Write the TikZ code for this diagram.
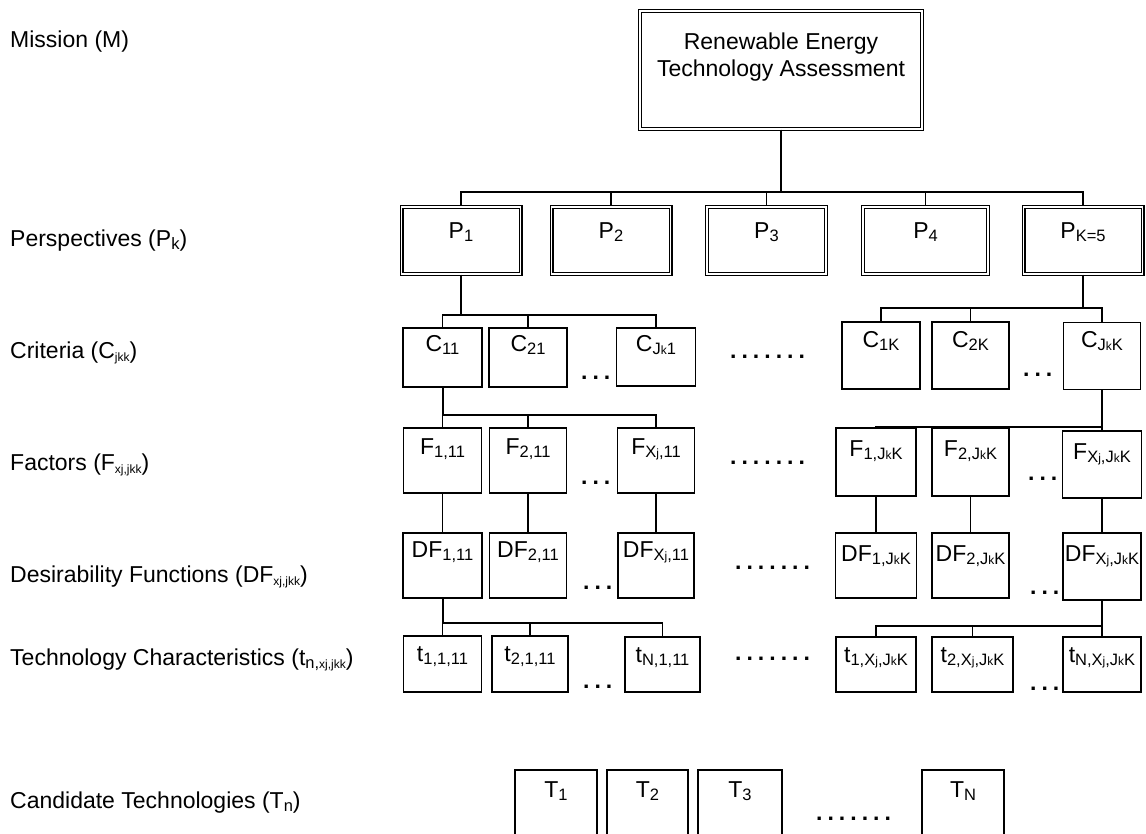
\documentclass[tikz,border=0pt]{standalone}
\usepackage{fontspec}
\setmainfont{Liberation Sans}
\newcommand\fsz{\fontsize{23}{27}\selectfont}
\newcommand\sub[1]{\raisebox{-3pt}{\fontsize{16.5}{16.5}\selectfont #1}}
\newcommand\tn[1]{{\fontsize{12}{12}\selectfont #1}}
\newcommand\dt{.\kern5pt}
\begin{document}
\begin{tikzpicture}[x=1pt,y=-1pt,
  every node/.style={font=\fsz},
  box/.style={draw, line width=1.5pt, inner sep=0pt},
  dbox/.style={draw, line width=1.2pt, double, double distance=1.6pt, inner sep=0pt},
  lbl/.style={anchor=base, inner sep=0pt},
  conn/.style={line width=1.6pt},
  trunk/.style={line width=2pt},
  side/.style={anchor=base west, inner sep=0pt},
  dots/.style={anchor=base west, inner sep=0pt, font=\fsz\bfseries}]
\useasboundingbox (0,0) rectangle (1146,834);
\clip (0,0) rectangle (1146,834);

% left labels
\node[side] (lm) at (10,48) {Mission (M)};
\node[side] (lp) at (10,247) {Perspectives (P\sub{k})};
\node[side] (lc) at (10,358) {Criteria (C\sub{\tn{jkk}})};
\node[side] (lf) at (10,470) {Factors (F\sub{\tn{xj,jkk}})};
\node[side] (ld) at (10,582) {Desirability Functions (DF\sub{\tn{xj,jkk}})};
\node[side] (lt) at (10,665) {Technology Characteristics (t\sub{n,\tn{xj,jkk}})};
\node[side] (lT) at (10,808) {Candidate Technologies (T\sub{n})};

% mission
\node[dbox, minimum width=282, minimum height=118,
  label={[anchor=north, align=center, inner sep=0pt, yshift=-22pt]north:Renewable Energy\\Technology Assessment}] (top) at (781,70) {};

% perspectives
\node[dbox, minimum width=119, minimum height=67, label={[lbl,yshift=-32pt]north:P\sub{1}}] (p1) at (461,240.5) {};
\node[dbox, minimum width=119, minimum height=67, label={[lbl,yshift=-32pt]north:P\sub{2}}] (p2) at (611,240.5) {};
\node[dbox, minimum width=119, minimum height=67, label={[lbl,yshift=-32pt]north:P\sub{3}}] (p3) at (766.5,240.5) {};
\node[dbox, minimum width=125, minimum height=67, label={[lbl,yshift=-32pt]north:P\sub{4}}] (p4) at (925.5,240.5) {};
\node[dbox, minimum width=119, minimum height=67, label={[lbl,yshift=-32pt]north:P\sub{K=5}}] (p5) at (1083,240.5) {};

% criteria
\node[box, minimum width=79, minimum height=59, label={[lbl,yshift=-24pt]north:C\sub{11}}] (c1) at (442.5,357.5) {};
\node[box, minimum width=78, minimum height=59, label={[lbl,yshift=-24pt]north:C\sub{21}}] (c2) at (528,357.5) {};
\node[box, minimum width=79, minimum height=58, label={[lbl,yshift=-24pt]north:C\sub{J\tn{k}1}}] (c3) at (656,357) {};
\node[box, minimum width=78, minimum height=67, label={[lbl,yshift=-26pt]north:C\sub{1K}}] (c4) at (881,355.5) {};
\node[box, minimum width=77, minimum height=67, label={[lbl,yshift=-26pt]north:C\sub{2K}}] (c5) at (970.5,355.5) {};
\node[box, minimum width=77, minimum height=67, label={[lbl,yshift=-26pt]north:C\sub{J\tn{k}K}}] (c6) at (1102,356) {};

% factors
\node[box, minimum width=78, minimum height=65, label={[lbl,yshift=-27pt]north:F\sub{1,11}}] (f1) at (442.5,460.5) {};
\node[box, minimum width=77, minimum height=65, label={[lbl,yshift=-27pt]north:F\sub{2,11}}] (f2) at (528,460.5) {};
\node[box, minimum width=77, minimum height=65, label={[lbl,yshift=-27pt]north:F\sub{X\tn{j},11}}] (f3) at (656,460.5) {};
\node[box, minimum width=80, minimum height=68, label={[lbl,yshift=-29pt]north:F\sub{1,J\tn{k}K}}] (f4) at (876,462) {};
\node[box, minimum width=77, minimum height=68, label={[lbl,yshift=-29pt]north:F\sub{2,J\tn{k}K}}] (f5) at (970.5,462) {};
\node[box, minimum width=79, minimum height=67, label={[lbl,yshift=-29pt]north:F\sub{X\tn{j},J\tn{k}K}}] (f6) at (1102,464.5) {};

% desirability functions
\node[box, minimum width=79, minimum height=65, label={[lbl,yshift=-25pt]north:DF\sub{1,11}}] (d1) at (442.5,565.5) {};
\node[box, minimum width=77, minimum height=65, label={[lbl,yshift=-25pt]north:DF\sub{2,11}}] (d2) at (528,565.5) {};
\node[box, minimum width=76, minimum height=65, label={[lbl,yshift=-25pt]north:DF\sub{X\tn{j},11}}] (d3) at (656,565.5) {};
\node[box, minimum width=81, minimum height=65, label={[lbl,yshift=-29pt]north:DF\sub{1,J\tn{k}K}}] (d4) at (876,565.5) {};
\node[box, minimum width=77, minimum height=65, label={[lbl,yshift=-29pt]north:DF\sub{2,J\tn{k}K}}] (d5) at (970.5,565.5) {};
\node[box, minimum width=78, minimum height=67, label={[lbl,yshift=-29pt]north:DF\sub{X\tn{j},J\tn{k}K}}] (d6) at (1102,566.5) {};

% technology characteristics
\node[box, minimum width=78, minimum height=56, label={[lbl,yshift=-26pt]north:t\sub{1,1,11}}] (t1) at (442.5,664) {};
\node[box, minimum width=76, minimum height=56, label={[lbl,yshift=-26pt]north:t\sub{2,1,11}}] (t2) at (530,664) {};
\node[box, minimum width=75, minimum height=55, label={[lbl,yshift=-26pt]north:t\sub{N,1,11}}] (t3) at (662.5,664.5) {};
\node[box, minimum width=80, minimum height=55, label={[lbl,yshift=-26pt]north:t\sub{1,X\tn{j},J\tn{k}K}}] (t4) at (876,664.5) {};
\node[box, minimum width=81, minimum height=55, label={[lbl,yshift=-26pt]north:t\sub{2,X\tn{j},J\tn{k}K}}] (t5) at (972.5,664.5) {};
\node[box, minimum width=78, minimum height=55, label={[lbl,yshift=-26pt]north:t\sub{N,X\tn{j},J\tn{k}K}}] (t6) at (1102,664.5) {};

% candidate technologies
\node[box, minimum width=82, minimum height=70, label={[lbl,yshift=-28pt]north:T\sub{1}}] (T1) at (556,805) {};
\node[box, minimum width=81, minimum height=70, label={[lbl,yshift=-28pt]north:T\sub{2}}] (T2) at (647.5,805) {};
\node[box, minimum width=84, minimum height=70, label={[lbl,yshift=-28pt]north:T\sub{3}}] (T3) at (740,805) {};
\node[box, minimum width=82, minimum height=70, label={[lbl,yshift=-28pt]north:T\sub{N}}] (T4) at (963,805) {};

% dots
\node[dots] (dc1) at (581,379) {\dt\dt.};
\node[dots] (dc2) at (730,359) {\dt\dt\dt\dt\dt\dt.};
\node[dots] (dc3) at (1023,377) {\dt\dt.};
\node[dots] (df1) at (581,484) {\dt\dt.};
\node[dots] (df2) at (730,464) {\dt\dt\dt\dt\dt\dt.};
\node[dots] (df3) at (1028,480) {\dt\dt.};
\node[dots] (dd1) at (583,589) {\dt\dt.};
\node[dots] (dd2) at (735,569) {\dt\dt\dt\dt\dt\dt.};
\node[dots] (dd3) at (1030,594) {\dt\dt.};
\node[dots] (dt1) at (583,688) {\dt\dt.};
\node[dots] (dt2) at (735,660) {\dt\dt\dt\dt\dt\dt.};
\node[dots] (dt3) at (1030,690) {\dt\dt.};
\node[dots] (dT) at (816,820) {\dt\dt\dt\dt\dt\dt.};

% connectors
\coordinate (b0) at (781,192);
\draw[trunk] (top.south) -- (b0);
\foreach \n in {p1,p2,p3,p4,p5} \draw[conn] (b0) -| (\n.north);

\coordinate (bc) at (461,315);
\draw[trunk] (p1.south) -- (bc);
\foreach \n in {c1,c2,c3} \draw[conn] (bc) -| (\n.north);
\coordinate (bcr) at (1083,308);
\draw[trunk] (p5.south) -- (bcr);
\foreach \n in {c4,c5,c6} \draw[conn] (bcr) -| (\n.north);

\coordinate (bf) at (442.5,415);
\draw[trunk] (c1.south) -- (bf);
\foreach \n in {f1,f2,f3} \draw[conn] (bf) -| (\n.north);
\coordinate (bfr) at (1102,427);
\draw[trunk] (c6.south) -- (bfr);
\foreach \n in {f4,f5,f6} \draw[conn] (bfr) -| (\n.north);

\foreach \a/\b in {f1/d1,f2/d2,f3/d3,f4/d4,f5/d5,f6/d6} \draw[conn] (\a.south) -- (\b.north);

\coordinate (bt) at (442.5,623);
\draw[trunk] (d1.south) -- (bt);
\foreach \n in {t1,t2,t3} \draw[conn] (bt) -| (\n.north);
\coordinate (btr) at (1102,626);
\draw[trunk] (d6.south) -- (btr);
\foreach \n in {t4,t5,t6} \draw[conn] (btr) -| (\n.north);
\end{tikzpicture}
\end{document}
